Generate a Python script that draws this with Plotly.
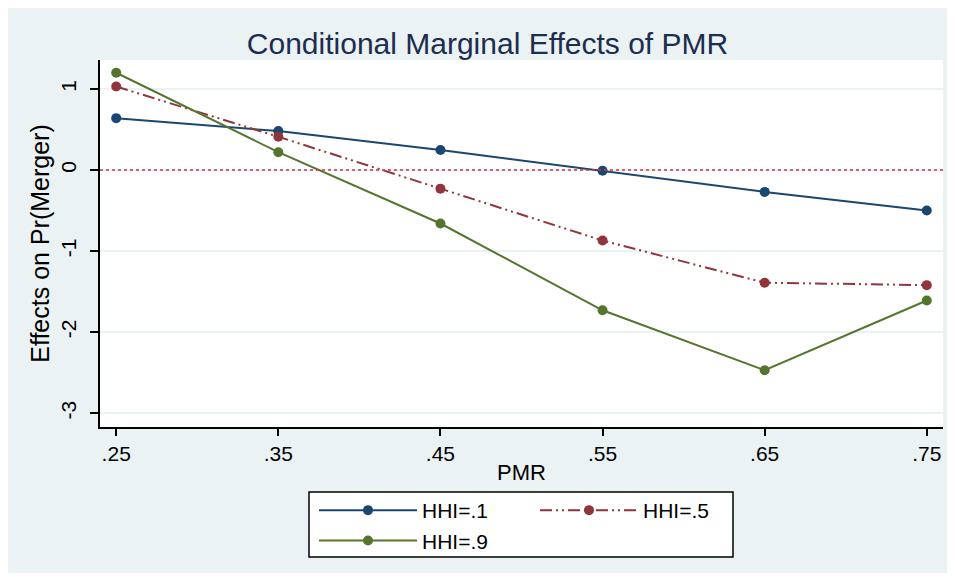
import plotly.graph_objects as go

pmr = [0.25, 0.35, 0.45, 0.55, 0.65, 0.75]
x_ticklabels = [".25", ".35", ".45", ".55", ".65", ".75"]
y_tickvals = [-3, -2, -1, 0, 1]
y_ticklabels = ["-3", "-2", "-1", "0", "1"]

hhi_01 = [0.64, 0.48, 0.246, -0.01, -0.27, -0.50]
hhi_05 = [1.03, 0.41, -0.23, -0.87, -1.39, -1.42]
hhi_09 = [1.20, 0.22, -0.66, -1.73, -2.47, -1.61]

series_names = ["HHI=.1", "HHI=.5", "HHI=.9"]

FONT = "Liberation Sans, Arial, sans-serif"
BG = "#EAF2F3"
NAVY = "#1A476F"
MAROON = "#90353B"
GREEN = "#55752F"

fig = go.Figure()
fig.add_trace(go.Scatter(
    x=pmr, y=hhi_01, mode="lines+markers", name=series_names[0],
    line=dict(color=NAVY, width=2), marker=dict(color=NAVY, size=10),
    legend="legend"))
fig.add_trace(go.Scatter(
    x=pmr, y=hhi_05, mode="lines+markers", name=series_names[1],
    line=dict(color=MAROON, width=2, dash="12px,4px,2px,4px,2px,4px"),
    marker=dict(color=MAROON, size=10),
    legend="legend2"))
fig.add_trace(go.Scatter(
    x=pmr, y=hhi_09, mode="lines+markers", name=series_names[2],
    line=dict(color=GREEN, width=2), marker=dict(color=GREEN, size=10),
    legend="legend"))

# figure is placed with an 8px page offset, so it is sized 947x569
W, H = 947, 569
L, R, T, B = 92, 12, 52, 150
pw, ph = W - L - R, H - T - B

def px_x(p):
    return (p - L) / pw

def px_y(p):
    return (H - B - p) / ph

ITEMW = 98

shapes = [
    # outer graph region
    dict(type="rect", xref="paper", yref="paper", layer="below",
         x0=px_x(0), x1=px_x(942), y0=px_y(565), y1=px_y(0),
         fillcolor=BG, line=dict(width=0)),
    # plot region
    dict(type="rect", xref="paper", yref="paper", layer="below",
         x0=0, x1=1, y0=0, y1=1, fillcolor="white", line=dict(width=0)),
    # legend box
    dict(type="rect", xref="paper", yref="paper", layer="below",
         x0=px_x(301), x1=px_x(725), y0=px_y(549), y1=px_y(484),
         fillcolor="white", line=dict(color="black", width=1.5)),
    # zero reference line
    dict(type="line", xref="paper", yref="y", layer="above",
         x0=0, x1=1, y0=0, y1=0,
         line=dict(color="#D8304A", width=1.5, dash="dot")),
]

fig.update_layout(
    width=W, height=H,
    margin=dict(l=L, r=R, t=T, b=B),
    paper_bgcolor="white", plot_bgcolor="white",
    font=dict(family=FONT, size=21, color="black"),
    title=dict(text="Conditional Marginal Effects of PMR",
               x=479.5 / W, xref="container", xanchor="center",
               y=1 - 35 / H, yref="container", yanchor="middle",
               font=dict(size=30, color="#1C2D50", family=FONT)),
    xaxis=dict(range=[0.24, 0.76], tickvals=pmr, ticktext=x_ticklabels,
               showgrid=False, zeroline=False, showline=True,
               linecolor="black", linewidth=2, ticks="outside",
               ticklen=7, tickwidth=2, tickcolor="black",
               tickfont=dict(size=21),
               title=dict(text="PMR", font=dict(size=22), standoff=0)),
    yaxis=dict(range=[-3.17, 1.357], tickvals=y_tickvals, ticktext=y_ticklabels,
               tickangle=-90, showgrid=True, gridcolor=BG, gridwidth=2,
               zeroline=False, showline=True, linecolor="black", linewidth=2,
               ticks="outside", ticklen=8, tickwidth=2, tickcolor="black",
               tickfont=dict(size=21), ticklabelstandoff=6,
               title=dict(text="Effects on Pr(Merger)", font=dict(size=25),
                          standoff=0)),
    shapes=shapes,
    legend=dict(orientation="v", x=px_x(306), y=px_y(482),
                xanchor="left", yanchor="top", bgcolor="rgba(0,0,0,0)",
                borderwidth=0, itemwidth=ITEMW, font=dict(size=21),
                tracegroupgap=0),
    legend2=dict(orientation="v", x=px_x(527), y=px_y(482),
                 xanchor="left", yanchor="top", bgcolor="rgba(0,0,0,0)",
                 borderwidth=0, itemwidth=ITEMW, font=dict(size=21)),
)

fig.write_html("out.html")
